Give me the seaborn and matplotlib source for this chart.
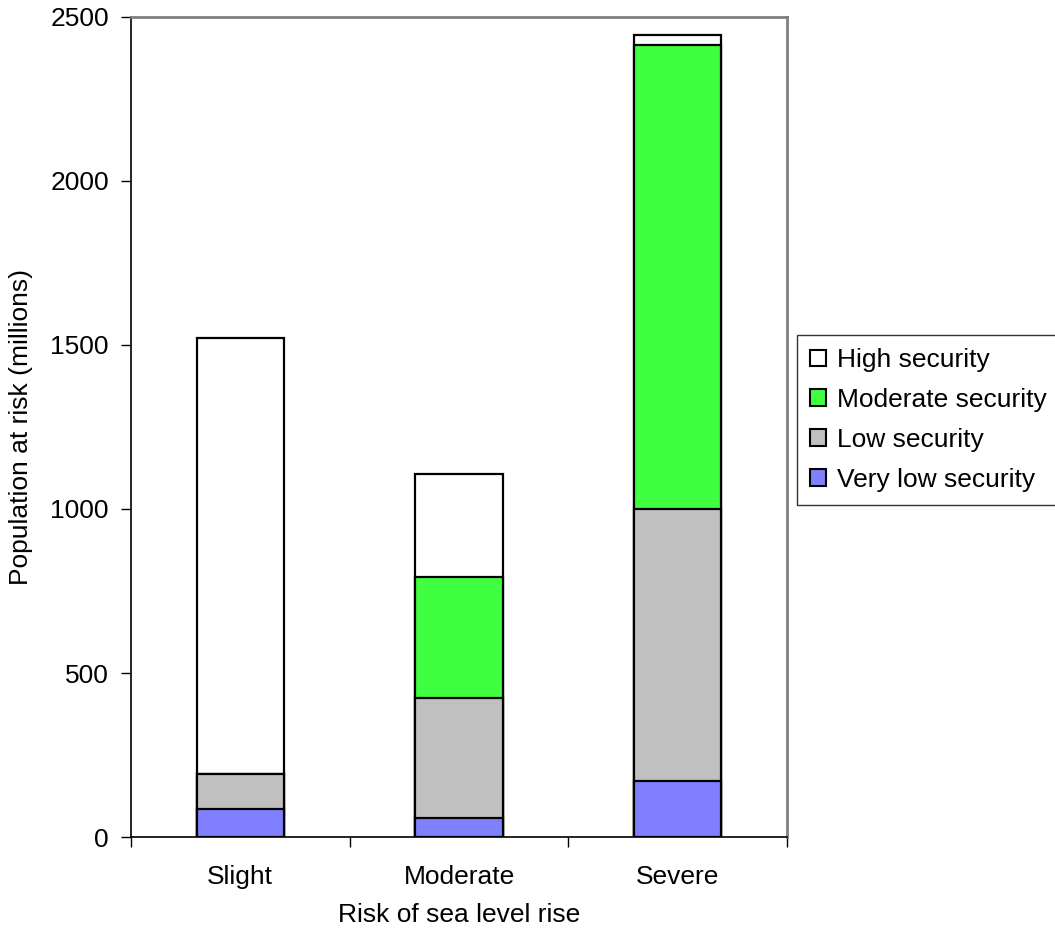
import numpy as np
import pandas as pd
import matplotlib
matplotlib.use('Agg')
import matplotlib.pyplot as plt
import seaborn as sns
from matplotlib.patches import Patch

risk = ['Slight', 'Moderate', 'Severe']
very_low = [84, 57, 171]
low = [108, 366, 828]
moderate = [0, 369, 1416]
high = [1328, 314, 30]

series = ['Very low security', 'Low security', 'Moderate security', 'High security']
values = [very_low, low, moderate, high]
colors = ['#8080FF', '#C0C0C0', '#40FF40', '#FFFFFF']

sns.set_style('white')
plt.rcParams['font.family'] = ['Liberation Sans', 'DejaVu Sans']
plt.rcParams['text.color'] = 'black'
plt.rcParams['axes.labelcolor'] = 'black'
plt.rcParams['xtick.color'] = 'black'
plt.rcParams['ytick.color'] = 'black'

fs = 19

df = pd.DataFrame({'Risk': risk})
cum = np.zeros(len(risk))
for name, vals in zip(series, values):
    cum = cum + np.array(vals)
    df[name] = cum

fig = plt.figure(figsize=(10.55, 9.38), dpi=100)
ax = fig.add_axes([131 / 1055, 1 - 837 / 938, 656 / 1055, 820 / 938])

# draw the cumulative totals from top to bottom so the smaller ones overlay
for name, col in reversed(list(zip(series, colors))):
    sns.barplot(data=df, x='Risk', y=name, color=col, width=0.4,
                edgecolor='black', linewidth=1.6, saturation=1, ax=ax)

ax.set_xlim(-0.5, 2.5)
ax.set_ylim(0, 2500)
ax.set_yticks([0, 500, 1000, 1500, 2000, 2500])
ax.set_xticks([0, 1, 2])
ax.set_xticks([-0.5, 0.5, 1.5, 2.5], minor=True)
ax.tick_params(axis='x', which='major', bottom=False, length=0, labelsize=fs, pad=20)
ax.tick_params(axis='x', which='minor', bottom=True, length=7, width=1, color='black', direction='out')
ax.tick_params(axis='y', left=True, length=7, width=1, color='black', direction='out', labelsize=fs, pad=9)
ax.set_xlabel('Risk of sea level rise', fontsize=fs, labelpad=10)
ax.set_ylabel('Population at risk (millions)', fontsize=fs, labelpad=12)

for s in ['left', 'bottom']:
    ax.spines[s].set_color('black')
    ax.spines[s].set_linewidth(1.2)
for s in ['top', 'right']:
    ax.spines[s].set_visible(True)
    ax.spines[s].set_color('#808080')
    ax.spines[s].set_linewidth(2)

handles = [Patch(facecolor=c, edgecolor='black', linewidth=1.5, label=n)
           for n, c in zip(series, colors)][::-1]
leg = fig.legend(handles=handles, loc='upper left', bbox_to_anchor=(797 / 1055, 1 - 335 / 938),
                 fontsize=fs, frameon=True, fancybox=False, edgecolor='black',
                 handlelength=0.6, handleheight=0.6, handletextpad=0.4,
                 labelspacing=0.6, borderpad=0.5, borderaxespad=0)
leg.get_frame().set_linewidth(1)

fig.savefig('out.png', dpi=100)
